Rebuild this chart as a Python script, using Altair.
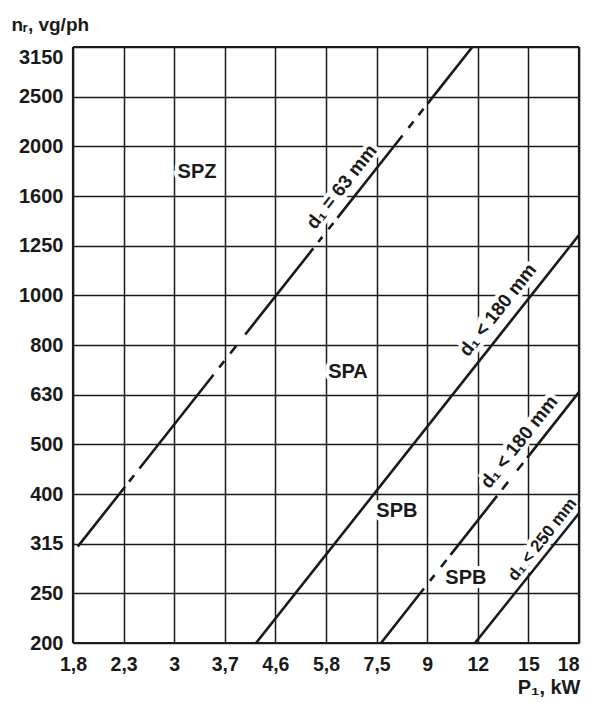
import json
import altair as alt
import pandas as pd

# ---- axis tick labels (R10 preferred numbers, evenly spaced on log axes)
x_labels = ["1,8", "2,3", "3", "3,7", "4,6", "5,8", "7,5", "9", "12", "15", "18"]
y_labels = ["200", "250", "315", "400", "500", "630", "800", "1000",
            "1250", "1600", "2000", "2500", "3150"]

# ---- boundary curves (P1 kW, n rpm) start / end
curve_p_start = [1.839, 4.14, 7.31, 11.21]
curve_n_start = [312.6, 200, 200, 200]
curve_p_end = [11.08, 18, 18, 18]
curve_n_end = [3170, 1326, 640, 365]

# ---- rotated curve labels
label_texts = ["d₁ = 63 mm", "d₁ < 180 mm", "d₁ < 180 mm", "d₁ < 250 mm"]
label_p = [6.11, 12.45, 13.7, 15.25]
label_n = [1658, 937, 508, 323]
label_size = [19, 19, 19, 17]

# ---- zone labels
zone_texts = ["SPZ", "SPA", "SPB", "SPB"]
zone_p = [3.165, 6.29, 7.86, 10.76]
zone_n = [1776, 703, 369, 270]

x_min, x_max = 1.8, 18.0
y_min = 200.0
y_max = 200.0 * 10 ** (1.2)
x_ticks = [x_min * 10 ** (i / 10) for i in range(len(x_labels))]
y_ticks = [y_min * 10 ** (i / 10) for i in range(len(y_labels))]

FONT = "Liberation Sans"
INK = "#1a1a1a"

x_axis = alt.Axis(
    values=x_ticks,
    labelExpr=f"{json.dumps(x_labels)}[round(10*log(datum.value/1.8)/LN10)]",
    domain=False, ticks=False, tickSize=0, grid=True,
    gridColor=INK, gridWidth=1.5, gridOpacity=1,
    labelFont=FONT, labelFontSize=19.5, labelFontWeight="bold", labelColor=INK,
    labelPadding=12, labelBaseline="top",
    labelAlign={"condition": {"test": "datum.value > 17", "value": "right"}, "value": "center"},
    labelOverlap=False,
    title="P₁, kW", titleFont=FONT, titleFontSize=20, titleFontWeight="bold",
    titleColor=INK, titleAlign="right", titleBaseline="alphabetic",
    titleX=507, titleY=50,
)
y_axis = alt.Axis(
    values=y_ticks,
    labelExpr=f"{json.dumps(y_labels)}[round(10*log(datum.value/200)/LN10)]",
    domain=False, ticks=False, tickSize=0, grid=True,
    gridColor=INK, gridWidth=1.5, gridOpacity=1,
    labelFont=FONT, labelFontSize=20, labelFontWeight="bold", labelColor=INK,
    labelPadding=10, labelAlign="right",
    labelBaseline={"condition": {"test": "datum.value > 3000", "value": "top"}, "value": "middle"},
    labelOverlap=False,
    title="nᵣ, vg/ph", titleFont=FONT, titleFontSize=19, titleFontWeight="bold",
    titleColor=INK, titleAngle=0, titleAlign="left", titleBaseline="alphabetic",
    titleX=-62, titleY=-17,
)

X = alt.X("P:Q", scale=alt.Scale(type="log", domain=[x_min, x_max], nice=False), axis=x_axis)
Y = alt.Y("n:Q", scale=alt.Scale(type="log", domain=[y_min, y_max], nice=False), axis=y_axis)

dash_patterns = [
    [76.4, 6.5, 8.1, 8.6, 119.5, 9.2, 8.1, 9.7, 9.7, 14.5, 109.8, 8.1, 6.5, 9.7,
     8.1, 6.5, 105, 9.7, 8.1, 8.1, 8.1, 6.5, 300, 10],
    None,
    [69.4, 9.7, 7.3, 10.5, 8.9, 6.5, 75.1, 8.1, 9.7, 14.5, 9.7, 6.5, 300, 10],
    None,
]

curve_layers = []
for i in range(len(curve_p_start)):
    df = pd.DataFrame({"P": [curve_p_start[i], curve_p_end[i]],
                       "n": [curve_n_start[i], curve_n_end[i]]})
    kw = dict(color=INK, strokeWidth=2.6, strokeCap="butt", clip=True)
    if dash_patterns[i] is not None:
        kw["strokeDash"] = dash_patterns[i]
    curve_layers.append(alt.Chart(df).mark_line(**kw).encode(x=X, y=Y))

labels_df = pd.DataFrame({"P": label_p, "n": label_n, "t": label_texts, "s": label_size})
zones_df = pd.DataFrame({"P": zone_p, "n": zone_n, "t": zone_texts})

def label_layer(halo):
    extra = dict(color="white", stroke="white", strokeWidth=8) if halo else dict(color=INK)
    return alt.Chart(labels_df).mark_text(
        font=FONT, fontWeight="bold", angle=308.2, align="center", baseline="middle", **extra
    ).encode(x=X, y=Y, text="t:N", size=alt.Size("s:Q", scale=None, legend=None))

def zone_layer(halo):
    extra = dict(color="white", stroke="white", strokeWidth=8) if halo else dict(color=INK)
    return alt.Chart(zones_df).mark_text(
        font=FONT, fontWeight="bold", fontSize=20, align="center", baseline="middle", **extra
    ).encode(x=X, y=Y, text="t:N")

frame_v = alt.Chart(pd.DataFrame({"P": [x_min, x_max]})).mark_rule(
    color=INK, strokeWidth=2.2).encode(x=X)
frame_h = alt.Chart(pd.DataFrame({"n": [y_min, y_max]})).mark_rule(
    color=INK, strokeWidth=2.2).encode(y=Y)

chart = alt.layer(
    label_layer(True), zone_layer(True),
    *curve_layers,
    frame_v, frame_h,
    label_layer(False), zone_layer(False),
).properties(
    width=506, height=596,
    autosize=alt.AutoSizeParams(type="none"),
    padding={"left": 65, "top": 39, "right": 3, "bottom": 54},
    background="white",
).configure_view(strokeWidth=0)

chart.save("out.html", embed_options={"renderer": "svg", "actions": False})
